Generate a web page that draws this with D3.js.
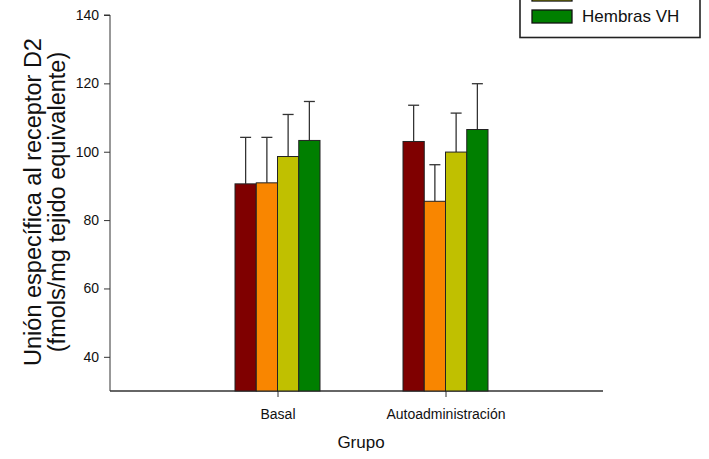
<!DOCTYPE html>
<html>
<head>
<meta charset="utf-8">
<script src="https://cdn.jsdelivr.net/npm/d3@7"></script>
<style>
  body { margin: 0; background: #fff; }
  svg { display: block; font-family: "Liberation Sans", Arial, sans-serif; }
</style>
</head>
<body>
<div id="chart"></div>
<script>
const groups = ["Basal", "Autoadministración"];
const series = ["Machos", "Machos VH", "Hembras", "Hembras VH"];
const colors = ["#7f0000", "#f98600", "#c0c000", "#007f00"];
const means = [
  [90.6, 90.9, 98.6, 103.3],
  [103.0, 85.5, 99.9, 106.5]
];
const errors = [
  [13.6, 13.3, 12.3, 11.4],
  [10.6, 10.7, 11.4, 13.4]
];
const yTicks = [40, 60, 80, 100, 120, 140];

const width = 709, height = 459;
const plot = { left: 110, right: 603, top: 15, bottom: 391 };

const svg = d3.select("#chart").append("svg")
  .attr("width", width)
  .attr("height", height);

const y = d3.scaleLinear().domain([30, 140]).range([plot.bottom, plot.top]);
const x = d3.scalePoint().domain(groups).range([277.5, 445.5]);
const xs = d3.scaleBand().domain(series).range([-42.5, 42.5]).padding(0);

const color = d3.scaleOrdinal().domain(series).range(colors);

// axes
svg.append("line")
  .attr("x1", plot.left).attr("x2", plot.right)
  .attr("y1", plot.bottom).attr("y2", plot.bottom)
  .attr("stroke", "#333").attr("stroke-width", 1.3);

const yAxis = svg.append("g")
  .attr("transform", `translate(${plot.left},0)`)
  .call(d3.axisLeft(y).tickValues(yTicks).tickSize(6).tickPadding(5));
yAxis.select(".domain").attr("d", `M-6,${y(140)}H0V${plot.bottom}`).attr("stroke", "#333");
yAxis.selectAll(".tick line").attr("stroke", "#333");
yAxis.selectAll("text").style("font-size", "14px").attr("fill", "#111");

const xAxis = svg.append("g")
  .attr("transform", `translate(0,${plot.bottom})`)
  .call(d3.axisBottom(x).tickSize(6).tickPadding(12));
xAxis.select(".domain").remove();
xAxis.selectAll(".tick line").attr("stroke", "#333");
xAxis.selectAll("text").style("font-size", "14px").attr("fill", "#111");

// bars
const rows = [];
groups.forEach((g, i) => {
  series.forEach((s, j) => {
    rows.push({ group: g, series: s, value: means[i][j], err: errors[i][j] });
  });
});

const bars = svg.append("g").selectAll("g")
  .data(rows)
  .join("g")
  .attr("transform", d => `translate(${x(d.group) + xs(d.series)},0)`);

bars.append("line")
  .attr("x1", xs.bandwidth() / 2).attr("x2", xs.bandwidth() / 2)
  .attr("y1", d => y(d.value)).attr("y2", d => y(d.value + d.err))
  .attr("stroke", "#333").attr("stroke-width", 1.3);

bars.append("line")
  .attr("x1", xs.bandwidth() / 2 - 5.5).attr("x2", xs.bandwidth() / 2 + 5.5)
  .attr("y1", d => y(d.value + d.err)).attr("y2", d => y(d.value + d.err))
  .attr("stroke", "#333").attr("stroke-width", 1.3);

bars.append("rect")
  .attr("x", 0)
  .attr("width", xs.bandwidth())
  .attr("y", d => y(d.value))
  .attr("height", d => plot.bottom - y(d.value))
  .attr("fill", d => color(d.series))
  .attr("stroke", "#222")
  .attr("stroke-width", 1);

// axis titles
const yTitle = svg.append("text")
  .attr("transform", `translate(41,202) rotate(-90)`)
  .attr("text-anchor", "middle")
  .style("font-size", "23.5px")
  .attr("fill", "#111");
yTitle.append("tspan").attr("x", 0).attr("dy", 0).text("Unión específica al receptor D2");
yTitle.append("tspan").attr("x", 0).attr("dy", 24).text("(fmols/mg tejido equivalente)");

svg.append("text")
  .attr("x", 361).attr("y", 448)
  .attr("text-anchor", "middle")
  .style("font-size", "17px")
  .attr("fill", "#111")
  .text("Grupo");

// legend (its top part falls outside the picture, as in the original)
const legend = svg.append("g").attr("transform", "translate(520,0)");
legend.append("rect")
  .attr("x", 0).attr("y", -80)
  .attr("width", 180).attr("height", 117.5)
  .attr("fill", "#fff").attr("stroke", "#222").attr("stroke-width", 1.6);

const itemY = i => 10 - (series.length - 1 - i) * 22;
const items = legend.selectAll("g.item")
  .data(series)
  .join("g")
  .attr("class", "item")
  .attr("transform", (d, i) => `translate(0,${itemY(i)})`);
items.append("rect")
  .attr("x", 12).attr("y", 0)
  .attr("width", 40).attr("height", 13)
  .attr("fill", d => color(d))
  .attr("stroke", "#111").attr("stroke-width", 1.3);
// only labels that fall inside the picture are drawn
items.filter((d, i) => itemY(i) >= 0)
  .append("text")
  .attr("x", 62).attr("y", 12)
  .style("font-size", "17px")
  .attr("fill", "#111")
  .text(d => d);
</script>
</body>
</html>
